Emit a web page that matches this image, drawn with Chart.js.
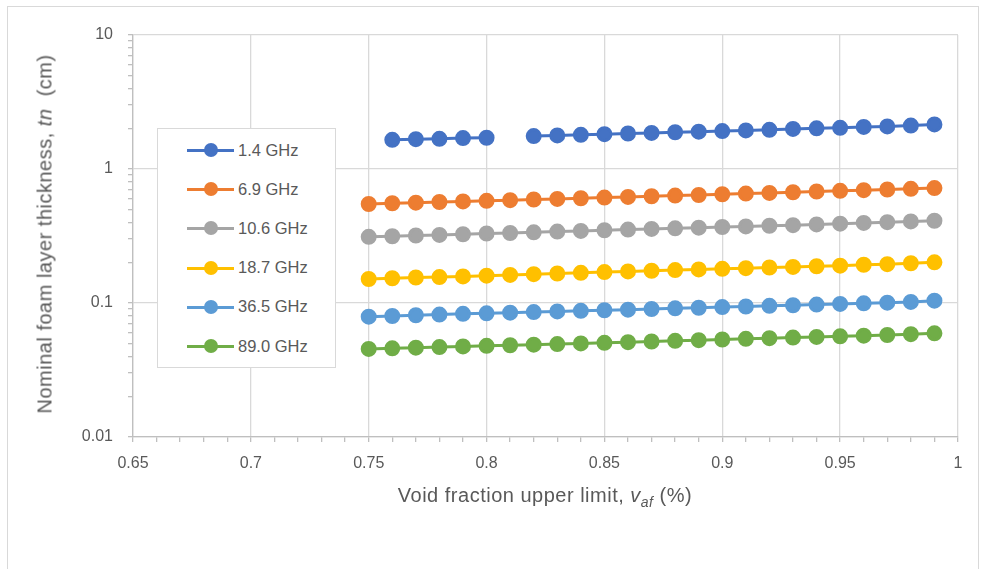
<!DOCTYPE html>
<html lang="en">
<head>
  <meta charset="UTF-8">
  <title>Nominal foam layer thickness</title>
  <script src="https://cdn.jsdelivr.net/npm/chart.js"></script>
  <style>
    body { margin: 0; background: #fff; font-family: "Liberation Sans", Arial, sans-serif; }
    #wrap { position: relative; width: 986px; height: 569px; overflow: hidden; }
    #frame { position: absolute; left: 7px; top: 6px; width: 970px; height: 580px; border: 1px solid #d9d9d9; }
    #chart { position: absolute; left: 0; top: 0; }
    .ytitle { position: absolute; left: 45px; top: 234px; transform: translate(-50%, -50%) rotate(-90deg);
      white-space: nowrap; font-size: 20px; letter-spacing: 0.5px; color: #595959; }
    .xtitle { position: absolute; left: 545px; top: 497px; transform: translate(-50%, -50%);
      white-space: nowrap; font-size: 20px; letter-spacing: 0.5px; color: #595959; }
    .xtitle sub { font-size: 14px; }
    #legend { position: absolute; left: 157px; top: 128px; width: 177px; height: 238px;
      border: 1px solid #d9d9d9; background: #fff; }
    .item { position: absolute; left: 29px; height: 20px; display: flex; align-items: center;
      font-size: 16.5px; color: #595959; }
    .item .mk { position: relative; width: 47px; height: 20px; margin-right: 4px; }
    .item .ln { position: absolute; left: 0; right: 0; top: 9px; height: 3px; }
    .item .dt { position: absolute; left: 17px; top: 3px; width: 14px; height: 14px; border-radius: 50%; }
  </style>
</head>
<body>
<div id="wrap">
  <div id="frame"></div>
  <canvas id="chart" width="986" height="569"></canvas>
  <div class="ytitle">Nominal foam layer thickness, <i>tn</i>&nbsp; (cm)</div>
  <div class="xtitle">Void fraction upper limit, <i>v</i><sub><i>af</i></sub> (%)</div>
  <div id="legend"></div>
</div>
<script>
  // void fraction values (x)
  const voidFraction = [0.75, 0.76, 0.77, 0.78, 0.79, 0.80, 0.81, 0.82, 0.83, 0.84, 0.85, 0.86, 0.87,
    0.88, 0.89, 0.90, 0.91, 0.92, 0.93, 0.94, 0.95, 0.96, 0.97, 0.98, 0.99];

  const seriesNames = ['1.4 GHz', '6.9 GHz', '10.6 GHz', '18.7 GHz', '36.5 GHz', '89.0 GHz'];
  const seriesColors = ['#4472C4', '#ED7D31', '#A5A5A5', '#FFC000', '#5B9BD5', '#70AD47'];

  // thickness (cm)
  const f1_4 = [null, 1.65, 1.67, 1.68, 1.70, 1.71, null, 1.76, 1.78, 1.80, 1.82, 1.84, 1.86,
    1.88, 1.90, 1.92, 1.94, 1.96, 1.99, 2.01, 2.03, 2.06, 2.08, 2.11, 2.15];
  const f6_9 = [0.548, 0.555, 0.561, 0.567, 0.573, 0.579, 0.585, 0.592, 0.598, 0.605, 0.612, 0.619, 0.626,
    0.633, 0.640, 0.648, 0.655, 0.663, 0.671, 0.679, 0.687, 0.695, 0.703, 0.711, 0.720];
  const f10_6 = [0.312, 0.315, 0.319, 0.322, 0.326, 0.330, 0.333, 0.337, 0.341, 0.345, 0.349, 0.353, 0.357,
    0.361, 0.365, 0.369, 0.373, 0.377, 0.381, 0.386, 0.391, 0.396, 0.401, 0.406, 0.411];
  const f18_7 = [0.151, 0.153, 0.155, 0.156, 0.158, 0.160, 0.162, 0.164, 0.166, 0.168, 0.170, 0.172, 0.174,
    0.176, 0.178, 0.180, 0.182, 0.184, 0.186, 0.188, 0.190, 0.193, 0.195, 0.198, 0.201];
  const f36_5 = [0.079, 0.080, 0.081, 0.082, 0.083, 0.0838, 0.0847, 0.0856, 0.0865, 0.0874, 0.0883, 0.0892, 0.0902,
    0.0912, 0.0922, 0.0932, 0.0942, 0.0952, 0.0962, 0.0973, 0.0984, 0.0995, 0.1006, 0.1018, 0.104];
  const f89_0 = [0.0454, 0.0459, 0.0464, 0.0469, 0.0474, 0.0479, 0.0484, 0.0489, 0.0494, 0.0499, 0.0504, 0.0510, 0.0516,
    0.0522, 0.0528, 0.0534, 0.0540, 0.0546, 0.0552, 0.0558, 0.0564, 0.0570, 0.0577, 0.0585, 0.0594];

  const allSeries = [f1_4, f6_9, f10_6, f18_7, f36_5, f89_0];

  // axis ticks
  const xMin = 0.65, xMax = 1.0;
  const yMin = 0.01, yMax = 10;

  const datasets = allSeries.map((vals, i) => ({
    label: seriesNames[i],
    data: voidFraction.map((x, j) => ({ x: x, y: vals[j] })),
    borderColor: seriesColors[i],
    backgroundColor: seriesColors[i],
    borderWidth: 3,
    pointRadius: 6.5,
    pointHoverRadius: 6.5,
    spanGaps: false
  }));

  const isDecade = v => Math.abs(Math.log10(v) - Math.round(Math.log10(v))) < 1e-6;
  const isMajorX = v => Math.abs(v * 20 - Math.round(v * 20)) < 1e-6;

  new Chart(document.getElementById('chart'), {
    type: 'line',
    data: { datasets: datasets },
    options: {
      responsive: false,
      animation: false,
      layout: { padding: { left: 0, top: 35, right: 28, bottom: 0 } },
      plugins: { legend: { display: false }, tooltip: { enabled: false } },
      scales: {
        x: {
          type: 'linear',
          min: xMin, max: xMax,
          afterBuildTicks: s => {
            const t = [];
            for (let k = 65; k <= 100; k++) t.push({ value: k / 100 });
            s.ticks = t;
          },
          afterFit: s => { s.height = 132; },
          grid: {
            color: c => isMajorX(c.tick.value) ? '#d9d9d9' : 'rgba(0,0,0,0)',
            tickColor: '#bfbfbf',
            tickLength: 5,
            lineWidth: 1.3
          },
          border: { color: '#bfbfbf', width: 1.3 },
          ticks: {
            autoSkip: false,
            maxRotation: 0,
            padding: 12,
            color: '#595959',
            font: { family: 'Liberation Sans', size: 16 },
            callback: v => isMajorX(v) ? String(Math.round(v * 100) / 100) : ''
          }
        },
        y: {
          type: 'logarithmic',
          min: yMin, max: yMax,
          afterBuildTicks: s => {
            const t = [];
            for (let e = -2; e < 1; e++) {
              for (let m = 1; m <= 9; m++) t.push({ value: m * Math.pow(10, e) });
            }
            t.push({ value: yMax });
            s.ticks = t;
          },
          afterFit: s => { s.width = 133; },
          grid: {
            color: c => isDecade(c.tick.value) ? '#d9d9d9' : 'rgba(0,0,0,0)',
            tickColor: '#bfbfbf',
            tickLength: 5,
            lineWidth: 1.3
          },
          border: { color: '#bfbfbf', width: 1.3 },
          ticks: {
            autoSkip: false,
            padding: 15,
            color: '#595959',
            font: { family: 'Liberation Sans', size: 16 },
            callback: v => isDecade(v) ? String(Number(v.toPrecision(1))) : ''
          }
        }
      }
    }
  });

  // legend box
  const legend = document.getElementById('legend');
  seriesNames.forEach((name, i) => {
    const item = document.createElement('div');
    item.className = 'item';
    item.style.top = (11 + i * 39.2) + 'px';
    item.innerHTML = '<span class="mk"><span class="ln" style="background:' + seriesColors[i] +
      '"></span><span class="dt" style="background:' + seriesColors[i] + '"></span></span>';
    item.appendChild(document.createTextNode(name));
    legend.appendChild(item);
  });
</script>
</body>
</html>
